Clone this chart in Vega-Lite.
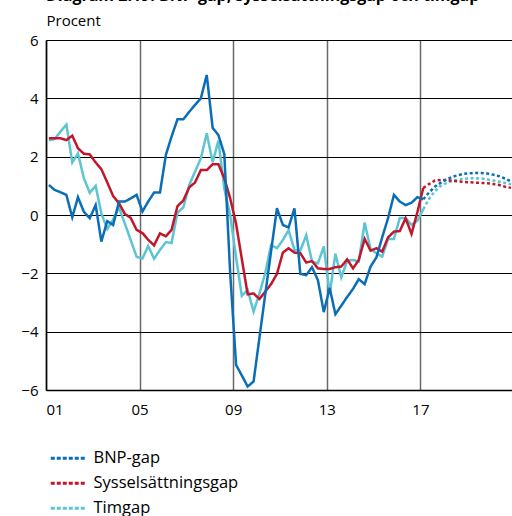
{
  "$schema": "https://vega.github.io/schema/vega-lite/v6.json",
  "width": 468,
  "height": 350,
  "autosize": {"type": "none"},
  "padding": {"left": 46, "top": 40, "right": 0, "bottom": 126},
  "title": {"text": "Diagram 2:19. BNP-gap, sysselsättningsgap och timgap", "anchor": "start", "frame": "group", "fontSize": 16, "fontWeight": "bold", "font": "Open Sans", "offset": -4, "baseline": "alphabetic", "color": "#000"},
  "config": {"font": "Open Sans", "view": {"stroke": null}, "axis": {"labelFont": "Open Sans", "labelColor": "#000", "labelFontSize": 15, "titleFont": "Open Sans", "titleColor": "#000"}},
  "data": {"values": [
    {"datum":"2001-02-15","serie":"Timgap","typ":"utfall","varde":2.57},
    {"datum":"2001-05-15","serie":"Timgap","typ":"utfall","varde":2.6},
    {"datum":"2001-08-15","serie":"Timgap","typ":"utfall","varde":2.86},
    {"datum":"2001-11-15","serie":"Timgap","typ":"utfall","varde":3.1},
    {"datum":"2002-02-15","serie":"Timgap","typ":"utfall","varde":1.8},
    {"datum":"2002-05-15","serie":"Timgap","typ":"utfall","varde":2.11},
    {"datum":"2002-08-15","serie":"Timgap","typ":"utfall","varde":1.26},
    {"datum":"2002-11-15","serie":"Timgap","typ":"utfall","varde":0.76},
    {"datum":"2003-02-15","serie":"Timgap","typ":"utfall","varde":1.0},
    {"datum":"2003-05-15","serie":"Timgap","typ":"utfall","varde":0.05},
    {"datum":"2003-08-15","serie":"Timgap","typ":"utfall","varde":-0.48},
    {"datum":"2003-11-15","serie":"Timgap","typ":"utfall","varde":-0.15},
    {"datum":"2004-02-15","serie":"Timgap","typ":"utfall","varde":0.25},
    {"datum":"2004-05-15","serie":"Timgap","typ":"utfall","varde":-0.29},
    {"datum":"2004-08-15","serie":"Timgap","typ":"utfall","varde":-0.86},
    {"datum":"2004-11-15","serie":"Timgap","typ":"utfall","varde":-1.43},
    {"datum":"2005-02-15","serie":"Timgap","typ":"utfall","varde":-1.49},
    {"datum":"2005-05-15","serie":"Timgap","typ":"utfall","varde":-1.06},
    {"datum":"2005-08-15","serie":"Timgap","typ":"utfall","varde":-1.5},
    {"datum":"2005-11-15","serie":"Timgap","typ":"utfall","varde":-1.2},
    {"datum":"2006-02-15","serie":"Timgap","typ":"utfall","varde":-0.93},
    {"datum":"2006-05-15","serie":"Timgap","typ":"utfall","varde":-0.96},
    {"datum":"2006-08-15","serie":"Timgap","typ":"utfall","varde":0.08},
    {"datum":"2006-11-15","serie":"Timgap","typ":"utfall","varde":0.26},
    {"datum":"2007-02-15","serie":"Timgap","typ":"utfall","varde":1.03},
    {"datum":"2007-05-15","serie":"Timgap","typ":"utfall","varde":1.48},
    {"datum":"2007-08-15","serie":"Timgap","typ":"utfall","varde":1.94},
    {"datum":"2007-11-15","serie":"Timgap","typ":"utfall","varde":2.8},
    {"datum":"2008-02-15","serie":"Timgap","typ":"utfall","varde":1.81},
    {"datum":"2008-05-15","serie":"Timgap","typ":"utfall","varde":2.55},
    {"datum":"2008-08-15","serie":"Timgap","typ":"utfall","varde":0.9},
    {"datum":"2008-11-15","serie":"Timgap","typ":"utfall","varde":0.0},
    {"datum":"2009-02-15","serie":"Timgap","typ":"utfall","varde":-1.45},
    {"datum":"2009-05-15","serie":"Timgap","typ":"utfall","varde":-2.77},
    {"datum":"2009-08-15","serie":"Timgap","typ":"utfall","varde":-2.57},
    {"datum":"2009-11-15","serie":"Timgap","typ":"utfall","varde":-3.31},
    {"datum":"2010-02-15","serie":"Timgap","typ":"utfall","varde":-2.69},
    {"datum":"2010-05-15","serie":"Timgap","typ":"utfall","varde":-2.0},
    {"datum":"2010-08-15","serie":"Timgap","typ":"utfall","varde":-1.03},
    {"datum":"2010-11-15","serie":"Timgap","typ":"utfall","varde":-1.14},
    {"datum":"2011-02-15","serie":"Timgap","typ":"utfall","varde":-0.86},
    {"datum":"2011-05-15","serie":"Timgap","typ":"utfall","varde":-0.52},
    {"datum":"2011-08-15","serie":"Timgap","typ":"utfall","varde":-1.2},
    {"datum":"2011-11-15","serie":"Timgap","typ":"utfall","varde":-1.22},
    {"datum":"2012-02-15","serie":"Timgap","typ":"utfall","varde":-0.69},
    {"datum":"2012-05-15","serie":"Timgap","typ":"utfall","varde":-1.6},
    {"datum":"2012-08-15","serie":"Timgap","typ":"utfall","varde":-1.66},
    {"datum":"2012-11-15","serie":"Timgap","typ":"utfall","varde":-1.08},
    {"datum":"2013-02-15","serie":"Timgap","typ":"utfall","varde":-2.7},
    {"datum":"2013-05-15","serie":"Timgap","typ":"utfall","varde":-1.33},
    {"datum":"2013-08-15","serie":"Timgap","typ":"utfall","varde":-2.14},
    {"datum":"2013-11-15","serie":"Timgap","typ":"utfall","varde":-1.57},
    {"datum":"2014-02-15","serie":"Timgap","typ":"utfall","varde":-1.54},
    {"datum":"2014-05-15","serie":"Timgap","typ":"utfall","varde":-1.6},
    {"datum":"2014-08-15","serie":"Timgap","typ":"utfall","varde":-0.26},
    {"datum":"2014-11-15","serie":"Timgap","typ":"utfall","varde":-1.17},
    {"datum":"2015-02-15","serie":"Timgap","typ":"utfall","varde":-1.31},
    {"datum":"2015-05-15","serie":"Timgap","typ":"utfall","varde":-1.43},
    {"datum":"2015-08-15","serie":"Timgap","typ":"utfall","varde":-0.82},
    {"datum":"2015-11-15","serie":"Timgap","typ":"utfall","varde":-0.82},
    {"datum":"2016-02-15","serie":"Timgap","typ":"utfall","varde":-0.1},
    {"datum":"2016-05-15","serie":"Timgap","typ":"utfall","varde":-0.11},
    {"datum":"2016-08-15","serie":"Timgap","typ":"utfall","varde":-0.34},
    {"datum":"2016-11-15","serie":"Timgap","typ":"utfall","varde":-0.2},
    {"datum":"2017-02-15","serie":"Timgap","typ":"utfall","varde":0.2},
    {"datum":"2017-02-15","serie":"Timgap","typ":"prognos","varde":0.2},
    {"datum":"2017-05-15","serie":"Timgap","typ":"prognos","varde":0.55},
    {"datum":"2017-08-15","serie":"Timgap","typ":"prognos","varde":0.82},
    {"datum":"2017-11-15","serie":"Timgap","typ":"prognos","varde":1.0},
    {"datum":"2018-02-15","serie":"Timgap","typ":"prognos","varde":1.1},
    {"datum":"2018-05-15","serie":"Timgap","typ":"prognos","varde":1.17},
    {"datum":"2018-08-15","serie":"Timgap","typ":"prognos","varde":1.21},
    {"datum":"2018-11-15","serie":"Timgap","typ":"prognos","varde":1.24},
    {"datum":"2019-02-15","serie":"Timgap","typ":"prognos","varde":1.26},
    {"datum":"2019-05-15","serie":"Timgap","typ":"prognos","varde":1.26},
    {"datum":"2019-08-15","serie":"Timgap","typ":"prognos","varde":1.25},
    {"datum":"2019-11-15","serie":"Timgap","typ":"prognos","varde":1.22},
    {"datum":"2020-02-15","serie":"Timgap","typ":"prognos","varde":1.18},
    {"datum":"2020-05-15","serie":"Timgap","typ":"prognos","varde":1.14},
    {"datum":"2020-08-15","serie":"Timgap","typ":"prognos","varde":1.1},
    {"datum":"2020-11-15","serie":"Timgap","typ":"prognos","varde":1.05},

    {"datum":"2001-02-15","serie":"Sysselsättningsgap","typ":"utfall","varde":2.63},
    {"datum":"2001-05-15","serie":"Sysselsättningsgap","typ":"utfall","varde":2.63},
    {"datum":"2001-08-15","serie":"Sysselsättningsgap","typ":"utfall","varde":2.63},
    {"datum":"2001-11-15","serie":"Sysselsättningsgap","typ":"utfall","varde":2.57},
    {"datum":"2002-02-15","serie":"Sysselsättningsgap","typ":"utfall","varde":2.72},
    {"datum":"2002-05-15","serie":"Sysselsättningsgap","typ":"utfall","varde":2.29},
    {"datum":"2002-08-15","serie":"Sysselsättningsgap","typ":"utfall","varde":2.1},
    {"datum":"2002-11-15","serie":"Sysselsättningsgap","typ":"utfall","varde":2.08},
    {"datum":"2003-02-15","serie":"Sysselsättningsgap","typ":"utfall","varde":1.8},
    {"datum":"2003-05-15","serie":"Sysselsättningsgap","typ":"utfall","varde":1.57},
    {"datum":"2003-08-15","serie":"Sysselsättningsgap","typ":"utfall","varde":1.12},
    {"datum":"2003-11-15","serie":"Sysselsättningsgap","typ":"utfall","varde":0.65},
    {"datum":"2004-02-15","serie":"Sysselsättningsgap","typ":"utfall","varde":0.4},
    {"datum":"2004-05-15","serie":"Sysselsättningsgap","typ":"utfall","varde":0.04},
    {"datum":"2004-08-15","serie":"Sysselsättningsgap","typ":"utfall","varde":-0.1},
    {"datum":"2004-11-15","serie":"Sysselsättningsgap","typ":"utfall","varde":-0.51},
    {"datum":"2005-02-15","serie":"Sysselsättningsgap","typ":"utfall","varde":-0.62},
    {"datum":"2005-05-15","serie":"Sysselsättningsgap","typ":"utfall","varde":-0.85},
    {"datum":"2005-08-15","serie":"Sysselsättningsgap","typ":"utfall","varde":-1.04},
    {"datum":"2005-11-15","serie":"Sysselsättningsgap","typ":"utfall","varde":-0.63},
    {"datum":"2006-02-15","serie":"Sysselsättningsgap","typ":"utfall","varde":-0.73},
    {"datum":"2006-05-15","serie":"Sysselsättningsgap","typ":"utfall","varde":-0.51},
    {"datum":"2006-08-15","serie":"Sysselsättningsgap","typ":"utfall","varde":0.3},
    {"datum":"2006-11-15","serie":"Sysselsättningsgap","typ":"utfall","varde":0.5},
    {"datum":"2007-02-15","serie":"Sysselsättningsgap","typ":"utfall","varde":0.95},
    {"datum":"2007-05-15","serie":"Sysselsättningsgap","typ":"utfall","varde":1.11},
    {"datum":"2007-08-15","serie":"Sysselsättningsgap","typ":"utfall","varde":1.54},
    {"datum":"2007-11-15","serie":"Sysselsättningsgap","typ":"utfall","varde":1.54},
    {"datum":"2008-02-15","serie":"Sysselsättningsgap","typ":"utfall","varde":1.74},
    {"datum":"2008-05-15","serie":"Sysselsättningsgap","typ":"utfall","varde":1.74},
    {"datum":"2008-08-15","serie":"Sysselsättningsgap","typ":"utfall","varde":1.26},
    {"datum":"2008-11-15","serie":"Sysselsättningsgap","typ":"utfall","varde":0.57},
    {"datum":"2009-02-15","serie":"Sysselsättningsgap","typ":"utfall","varde":-0.3},
    {"datum":"2009-05-15","serie":"Sysselsättningsgap","typ":"utfall","varde":-1.5},
    {"datum":"2009-08-15","serie":"Sysselsättningsgap","typ":"utfall","varde":-2.72},
    {"datum":"2009-11-15","serie":"Sysselsättningsgap","typ":"utfall","varde":-2.69},
    {"datum":"2010-02-15","serie":"Sysselsättningsgap","typ":"utfall","varde":-2.88},
    {"datum":"2010-05-15","serie":"Sysselsättningsgap","typ":"utfall","varde":-2.63},
    {"datum":"2010-08-15","serie":"Sysselsättningsgap","typ":"utfall","varde":-2.37},
    {"datum":"2010-11-15","serie":"Sysselsättningsgap","typ":"utfall","varde":-2.02},
    {"datum":"2011-02-15","serie":"Sysselsättningsgap","typ":"utfall","varde":-1.29},
    {"datum":"2011-05-15","serie":"Sysselsättningsgap","typ":"utfall","varde":-1.14},
    {"datum":"2011-08-15","serie":"Sysselsättningsgap","typ":"utfall","varde":-1.29},
    {"datum":"2011-11-15","serie":"Sysselsättningsgap","typ":"utfall","varde":-1.31},
    {"datum":"2012-02-15","serie":"Sysselsättningsgap","typ":"utfall","varde":-1.63},
    {"datum":"2012-05-15","serie":"Sysselsättningsgap","typ":"utfall","varde":-1.58},
    {"datum":"2012-08-15","serie":"Sysselsättningsgap","typ":"utfall","varde":-1.83},
    {"datum":"2012-11-15","serie":"Sysselsättningsgap","typ":"utfall","varde":-1.85},
    {"datum":"2013-02-15","serie":"Sysselsättningsgap","typ":"utfall","varde":-1.85},
    {"datum":"2013-05-15","serie":"Sysselsättningsgap","typ":"utfall","varde":-1.79},
    {"datum":"2013-08-15","serie":"Sysselsättningsgap","typ":"utfall","varde":-1.77},
    {"datum":"2013-11-15","serie":"Sysselsättningsgap","typ":"utfall","varde":-1.52},
    {"datum":"2014-02-15","serie":"Sysselsättningsgap","typ":"utfall","varde":-1.83},
    {"datum":"2014-05-15","serie":"Sysselsättningsgap","typ":"utfall","varde":-1.54},
    {"datum":"2014-08-15","serie":"Sysselsättningsgap","typ":"utfall","varde":-0.82},
    {"datum":"2014-11-15","serie":"Sysselsättningsgap","typ":"utfall","varde":-1.22},
    {"datum":"2015-02-15","serie":"Sysselsättningsgap","typ":"utfall","varde":-1.14},
    {"datum":"2015-05-15","serie":"Sysselsättningsgap","typ":"utfall","varde":-1.26},
    {"datum":"2015-08-15","serie":"Sysselsättningsgap","typ":"utfall","varde":-0.77},
    {"datum":"2015-11-15","serie":"Sysselsättningsgap","typ":"utfall","varde":-0.57},
    {"datum":"2016-02-15","serie":"Sysselsättningsgap","typ":"utfall","varde":-0.55},
    {"datum":"2016-05-15","serie":"Sysselsättningsgap","typ":"utfall","varde":-0.11},
    {"datum":"2016-08-15","serie":"Sysselsättningsgap","typ":"utfall","varde":-0.65},
    {"datum":"2016-11-15","serie":"Sysselsättningsgap","typ":"utfall","varde":0.1},
    {"datum":"2017-02-15","serie":"Sysselsättningsgap","typ":"utfall","varde":0.93},
    {"datum":"2017-02-15","serie":"Sysselsättningsgap","typ":"prognos","varde":0.93},
    {"datum":"2017-05-15","serie":"Sysselsättningsgap","typ":"prognos","varde":1.06},
    {"datum":"2017-08-15","serie":"Sysselsättningsgap","typ":"prognos","varde":1.18},
    {"datum":"2017-11-15","serie":"Sysselsättningsgap","typ":"prognos","varde":1.2},
    {"datum":"2018-02-15","serie":"Sysselsättningsgap","typ":"prognos","varde":1.2},
    {"datum":"2018-05-15","serie":"Sysselsättningsgap","typ":"prognos","varde":1.17},
    {"datum":"2018-08-15","serie":"Sysselsättningsgap","typ":"prognos","varde":1.15},
    {"datum":"2018-11-15","serie":"Sysselsättningsgap","typ":"prognos","varde":1.13},
    {"datum":"2019-02-15","serie":"Sysselsättningsgap","typ":"prognos","varde":1.12},
    {"datum":"2019-05-15","serie":"Sysselsättningsgap","typ":"prognos","varde":1.11},
    {"datum":"2019-08-15","serie":"Sysselsättningsgap","typ":"prognos","varde":1.1},
    {"datum":"2019-11-15","serie":"Sysselsättningsgap","typ":"prognos","varde":1.09},
    {"datum":"2020-02-15","serie":"Sysselsättningsgap","typ":"prognos","varde":1.06},
    {"datum":"2020-05-15","serie":"Sysselsättningsgap","typ":"prognos","varde":1.03},
    {"datum":"2020-08-15","serie":"Sysselsättningsgap","typ":"prognos","varde":0.97},
    {"datum":"2020-11-15","serie":"Sysselsättningsgap","typ":"prognos","varde":0.93},

    {"datum":"2001-02-15","serie":"BNP-gap","typ":"utfall","varde":1.03},
    {"datum":"2001-05-15","serie":"BNP-gap","typ":"utfall","varde":0.86},
    {"datum":"2001-08-15","serie":"BNP-gap","typ":"utfall","varde":0.78},
    {"datum":"2001-11-15","serie":"BNP-gap","typ":"utfall","varde":0.69},
    {"datum":"2002-02-15","serie":"BNP-gap","typ":"utfall","varde":-0.08},
    {"datum":"2002-05-15","serie":"BNP-gap","typ":"utfall","varde":0.61},
    {"datum":"2002-08-15","serie":"BNP-gap","typ":"utfall","varde":0.11},
    {"datum":"2002-11-15","serie":"BNP-gap","typ":"utfall","varde":-0.11},
    {"datum":"2003-02-15","serie":"BNP-gap","typ":"utfall","varde":0.34},
    {"datum":"2003-05-15","serie":"BNP-gap","typ":"utfall","varde":-0.91},
    {"datum":"2003-08-15","serie":"BNP-gap","typ":"utfall","varde":-0.21},
    {"datum":"2003-11-15","serie":"BNP-gap","typ":"utfall","varde":-0.34},
    {"datum":"2004-02-15","serie":"BNP-gap","typ":"utfall","varde":0.46},
    {"datum":"2004-05-15","serie":"BNP-gap","typ":"utfall","varde":0.46},
    {"datum":"2004-08-15","serie":"BNP-gap","typ":"utfall","varde":0.57},
    {"datum":"2004-11-15","serie":"BNP-gap","typ":"utfall","varde":0.69},
    {"datum":"2005-02-15","serie":"BNP-gap","typ":"utfall","varde":0.12},
    {"datum":"2005-05-15","serie":"BNP-gap","typ":"utfall","varde":0.46},
    {"datum":"2005-08-15","serie":"BNP-gap","typ":"utfall","varde":0.77},
    {"datum":"2005-11-15","serie":"BNP-gap","typ":"utfall","varde":0.77},
    {"datum":"2006-02-15","serie":"BNP-gap","typ":"utfall","varde":2.06},
    {"datum":"2006-05-15","serie":"BNP-gap","typ":"utfall","varde":2.69},
    {"datum":"2006-08-15","serie":"BNP-gap","typ":"utfall","varde":3.28},
    {"datum":"2006-11-15","serie":"BNP-gap","typ":"utfall","varde":3.28},
    {"datum":"2007-02-15","serie":"BNP-gap","typ":"utfall","varde":3.54},
    {"datum":"2007-05-15","serie":"BNP-gap","typ":"utfall","varde":3.77},
    {"datum":"2007-08-15","serie":"BNP-gap","typ":"utfall","varde":4.0},
    {"datum":"2007-11-15","serie":"BNP-gap","typ":"utfall","varde":4.8},
    {"datum":"2008-02-15","serie":"BNP-gap","typ":"utfall","varde":2.99},
    {"datum":"2008-05-15","serie":"BNP-gap","typ":"utfall","varde":2.74},
    {"datum":"2008-08-15","serie":"BNP-gap","typ":"utfall","varde":2.09},
    {"datum":"2008-11-15","serie":"BNP-gap","typ":"utfall","varde":-2.0},
    {"datum":"2009-02-15","serie":"BNP-gap","typ":"utfall","varde":-5.14},
    {"datum":"2009-05-15","serie":"BNP-gap","typ":"utfall","varde":-5.5},
    {"datum":"2009-08-15","serie":"BNP-gap","typ":"utfall","varde":-5.88},
    {"datum":"2009-11-15","serie":"BNP-gap","typ":"utfall","varde":-5.71},
    {"datum":"2010-02-15","serie":"BNP-gap","typ":"utfall","varde":-4.2},
    {"datum":"2010-05-15","serie":"BNP-gap","typ":"utfall","varde":-2.74},
    {"datum":"2010-08-15","serie":"BNP-gap","typ":"utfall","varde":-1.25},
    {"datum":"2010-11-15","serie":"BNP-gap","typ":"utfall","varde":0.23},
    {"datum":"2011-02-15","serie":"BNP-gap","typ":"utfall","varde":-0.34},
    {"datum":"2011-05-15","serie":"BNP-gap","typ":"utfall","varde":-0.43},
    {"datum":"2011-08-15","serie":"BNP-gap","typ":"utfall","varde":0.23},
    {"datum":"2011-11-15","serie":"BNP-gap","typ":"utfall","varde":-2.02},
    {"datum":"2012-02-15","serie":"BNP-gap","typ":"utfall","varde":-2.06},
    {"datum":"2012-05-15","serie":"BNP-gap","typ":"utfall","varde":-1.79},
    {"datum":"2012-08-15","serie":"BNP-gap","typ":"utfall","varde":-2.23},
    {"datum":"2012-11-15","serie":"BNP-gap","typ":"utfall","varde":-3.33},
    {"datum":"2013-02-15","serie":"BNP-gap","typ":"utfall","varde":-2.5},
    {"datum":"2013-05-15","serie":"BNP-gap","typ":"utfall","varde":-3.4},
    {"datum":"2013-08-15","serie":"BNP-gap","typ":"utfall","varde":-3.11},
    {"datum":"2013-11-15","serie":"BNP-gap","typ":"utfall","varde":-2.81},
    {"datum":"2014-02-15","serie":"BNP-gap","typ":"utfall","varde":-2.53},
    {"datum":"2014-05-15","serie":"BNP-gap","typ":"utfall","varde":-2.2},
    {"datum":"2014-08-15","serie":"BNP-gap","typ":"utfall","varde":-2.37},
    {"datum":"2014-11-15","serie":"BNP-gap","typ":"utfall","varde":-1.77},
    {"datum":"2015-02-15","serie":"BNP-gap","typ":"utfall","varde":-1.45},
    {"datum":"2015-05-15","serie":"BNP-gap","typ":"utfall","varde":-0.77},
    {"datum":"2015-08-15","serie":"BNP-gap","typ":"utfall","varde":-0.11},
    {"datum":"2015-11-15","serie":"BNP-gap","typ":"utfall","varde":0.69},
    {"datum":"2016-02-15","serie":"BNP-gap","typ":"utfall","varde":0.46},
    {"datum":"2016-05-15","serie":"BNP-gap","typ":"utfall","varde":0.34},
    {"datum":"2016-08-15","serie":"BNP-gap","typ":"utfall","varde":0.42},
    {"datum":"2016-11-15","serie":"BNP-gap","typ":"utfall","varde":0.61},
    {"datum":"2017-02-15","serie":"BNP-gap","typ":"utfall","varde":0.54},
    {"datum":"2017-02-15","serie":"BNP-gap","typ":"prognos","varde":0.54},
    {"datum":"2017-05-15","serie":"BNP-gap","typ":"prognos","varde":0.77},
    {"datum":"2017-08-15","serie":"BNP-gap","typ":"prognos","varde":0.97},
    {"datum":"2017-11-15","serie":"BNP-gap","typ":"prognos","varde":1.11},
    {"datum":"2018-02-15","serie":"BNP-gap","typ":"prognos","varde":1.22},
    {"datum":"2018-05-15","serie":"BNP-gap","typ":"prognos","varde":1.31},
    {"datum":"2018-08-15","serie":"BNP-gap","typ":"prognos","varde":1.37},
    {"datum":"2018-11-15","serie":"BNP-gap","typ":"prognos","varde":1.41},
    {"datum":"2019-02-15","serie":"BNP-gap","typ":"prognos","varde":1.43},
    {"datum":"2019-05-15","serie":"BNP-gap","typ":"prognos","varde":1.44},
    {"datum":"2019-08-15","serie":"BNP-gap","typ":"prognos","varde":1.44},
    {"datum":"2019-11-15","serie":"BNP-gap","typ":"prognos","varde":1.42},
    {"datum":"2020-02-15","serie":"BNP-gap","typ":"prognos","varde":1.38},
    {"datum":"2020-05-15","serie":"BNP-gap","typ":"prognos","varde":1.33},
    {"datum":"2020-08-15","serie":"BNP-gap","typ":"prognos","varde":1.25},
    {"datum":"2020-11-15","serie":"BNP-gap","typ":"prognos","varde":1.15}
  ]},
  "mark": {"type": "line", "strokeWidth": 2.5},
  "encoding": {
    "x": {"field": "datum", "type": "temporal", "title": null,
      "scale": {"domain": [{"year": 2001, "month": 1, "date": 1}, {"year": 2021, "month": 1, "date": 1}]},
      "axis": {"values": [{"year": 2001}, {"year": 2005}, {"year": 2009}, {"year": 2013}, {"year": 2017}], "format": "%y", "grid": true, "gridColor": "#6a6a6a", "gridWidth": 1.5, "domainColor": "#000", "domainWidth": 1.5, "ticks": false, "labelPadding": 12, "labelFontSize": 15}},
    "y": {"field": "varde", "type": "quantitative",
      "scale": {"domain": [-6, 6], "nice": false},
      "axis": {"values": [-6, -4, -2, 0, 2, 4, 6], "grid": true, "gridColor": "#000", "gridWidth": 1.2, "domainColor": "#000", "domainWidth": 1.5, "ticks": false, "labelPadding": 8, "labelFontSize": 15, "title": "Procent", "titleAngle": 0, "titleAlign": "left", "titleBaseline": "alphabetic", "titleX": 0, "titleY": -15, "titleFontWeight": "normal", "titleFontSize": 15}},
    "color": {"field": "serie", "type": "nominal",
      "scale": {"domain": ["BNP-gap", "Sysselsättningsgap", "Timgap"], "range": ["#0A6EB6", "#C2162B", "#5CC4D2"]},
      "legend": {"orient": "none", "legendX": 14, "legendY": 410, "title": null, "symbolType": "M-3,0H3", "symbolSize": 136, "symbolStrokeWidth": 3, "symbolDash": [4, 2], "labelFontSize": 16.5, "labelFont": "Open Sans", "labelColor": "#000", "labelOffset": 17, "rowPadding": 8}},
    "strokeDash": {"field": "typ", "type": "nominal", "scale": {"domain": ["utfall", "prognos"], "range": [[1, 0], [3, 2.5]]}, "legend": null}
  }
}
